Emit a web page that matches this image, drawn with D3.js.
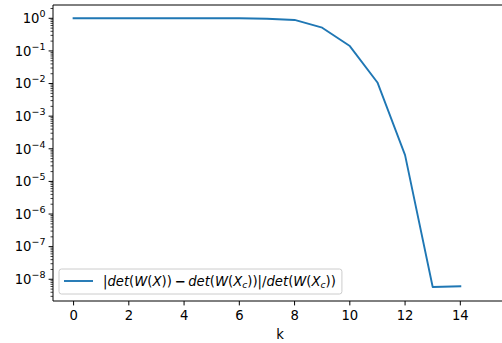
<!DOCTYPE html>
<html>
<head>
<meta charset="utf-8">
<script src="https://cdn.jsdelivr.net/npm/d3@7"></script>
<style>
  body { margin: 0; background: #fff; }
  svg { display: block; font-family: "DejaVu Sans", sans-serif; }
  text { fill: #000; }
</style>
</head>
<body>
<svg id="chart" width="502" height="343"></svg>
<script>
// data
const kValues = [0, 1, 2, 3, 4, 5, 6, 7, 8, 9, 10, 11, 12, 13, 14];
const relDiff = [1, 1, 1, 1, 1, 1, 1, 0.97, 0.89, 0.515, 0.141, 0.0108, 6.4e-5, 5.8e-9, 6.1e-9];
const xTicks = [0, 2, 4, 6, 8, 10, 12, 14];
const yTickExps = [0, -1, -2, -3, -4, -5, -6, -7, -8];

const svg = d3.select("#chart");
const axLeft = 53, axRight = 507, axTop = 5, axBottom = 301;
const fs = 13.2;
const blue = "#1f77b4";

const x = d3.scaleLinear().domain([-0.745, 15.69]).range([axLeft, axRight]);
const y = d3.scaleLog().domain([Math.pow(10, -8.666), Math.pow(10, 0.408)]).range([axBottom, axTop]);

// line
const line = d3.line().x((d, i) => x(kValues[i])).y(d => y(d));
svg.append("path")
  .datum(relDiff)
  .attr("d", line)
  .attr("fill", "none")
  .attr("stroke", blue)
  .attr("stroke-width", 1.9)
  .attr("stroke-linejoin", "round")
  .attr("stroke-linecap", "square");

// x axis
const xAxis = svg.append("g");
xTicks.forEach(t => {
  xAxis.append("line")
    .attr("x1", x(t)).attr("x2", x(t))
    .attr("y1", axBottom).attr("y2", axBottom + 4.4)
    .attr("stroke", "#000").attr("stroke-width", 1);
  xAxis.append("text")
    .attr("x", x(t)).attr("y", 320)
    .attr("text-anchor", "middle")
    .attr("font-size", fs)
    .text(t);
});
svg.append("text")
  .attr("x", (axLeft + axRight) / 2).attr("y", 338.5)
  .attr("text-anchor", "middle")
  .attr("font-size", fs)
  .text("k");

// y axis, major + minor ticks
const yAxis = svg.append("g");
yTickExps.forEach(e => {
  const v = Math.pow(10, e);
  yAxis.append("line")
    .attr("x1", axLeft - 4.4).attr("x2", axLeft)
    .attr("y1", y(v)).attr("y2", y(v))
    .attr("stroke", "#000").attr("stroke-width", 1);
  const txt = yAxis.append("text")
    .attr("x", axLeft - 7.5).attr("y", y(v) + fs * 0.36)
    .attr("text-anchor", "end")
    .attr("font-size", fs);
  txt.append("tspan").text("10");
  txt.append("tspan")
    .attr("font-size", fs * 0.72)
    .attr("dy", -fs * 0.45)
    .text(e === 0 ? "0" : "\u2212" + (-e));
});
const [ymin, ymax] = y.domain();
for (let e = -9; e <= 0; e++) {
  for (let m = 2; m <= 9; m++) {
    const v = m * Math.pow(10, e);
    if (v < ymin || v > ymax) continue;
    yAxis.append("line")
      .attr("x1", axLeft - 2.5).attr("x2", axLeft)
      .attr("y1", y(v)).attr("y2", y(v))
      .attr("stroke", "#000").attr("stroke-width", 0.75);
  }
}

// spines
const spine = (x1, y1, x2, y2) => svg.append("line")
  .attr("x1", x1).attr("y1", y1).attr("x2", x2).attr("y2", y2)
  .attr("stroke", "#000").attr("stroke-width", 1);
spine(axLeft, axTop, axLeft, axBottom);
spine(axLeft, axBottom, axRight, axBottom);
spine(axLeft, axTop, axRight, axTop);
spine(axRight, axTop, axRight, axBottom);

// legend
const lg = svg.append("g");
const box = lg.append("rect")
  .attr("x", 59).attr("y", 269)
  .attr("width", 290).attr("height", 25)
  .attr("rx", 2.5)
  .attr("fill", "#fff").attr("fill-opacity", 0.8)
  .attr("stroke", "#cccccc").attr("stroke-width", 1);
lg.append("line")
  .attr("x1", 64).attr("x2", 93).attr("y1", 281).attr("y2", 281)
  .attr("stroke", blue).attr("stroke-width", 1.9);

// mathtext-ish label: [text, style] 0 upright, 1 italic, 2 italic subscript
const legendParts = [
  ["|", 0], ["det", 1], ["(", 0], ["W", 1], ["(", 0], ["X", 1], ["))", 0],
  ["\u2009\u2212\u2009", 3],
  ["det", 1], ["(", 0], ["W", 1], ["(", 0], ["X", 1], ["c", 2], ["))|/", 0],
  ["det", 1], ["(", 0], ["W", 1], ["(", 0], ["X", 1], ["c", 2], ["))", 0]
];
const lt = lg.append("text")
  .attr("x", 103).attr("y", 285.5)
  .attr("font-size", fs);
let sub = false;
legendParts.forEach(([s, st]) => {
  const ts = lt.append("tspan").text(s);
  if (st === 1 || st === 2) ts.attr("font-style", "italic");
  if (st === 3) ts.attr("font-weight", "bold");
  if (st === 2) {
    ts.attr("font-size", fs * 0.7).attr("dy", fs * 0.2);
    sub = true;
  } else if (sub) {
    ts.attr("dy", -fs * 0.2);
    sub = false;
  }
});
const bb = lt.node().getBBox();
box.attr("width", bb.x + bb.width + 6 - 59);
</script>
</body>
</html>
